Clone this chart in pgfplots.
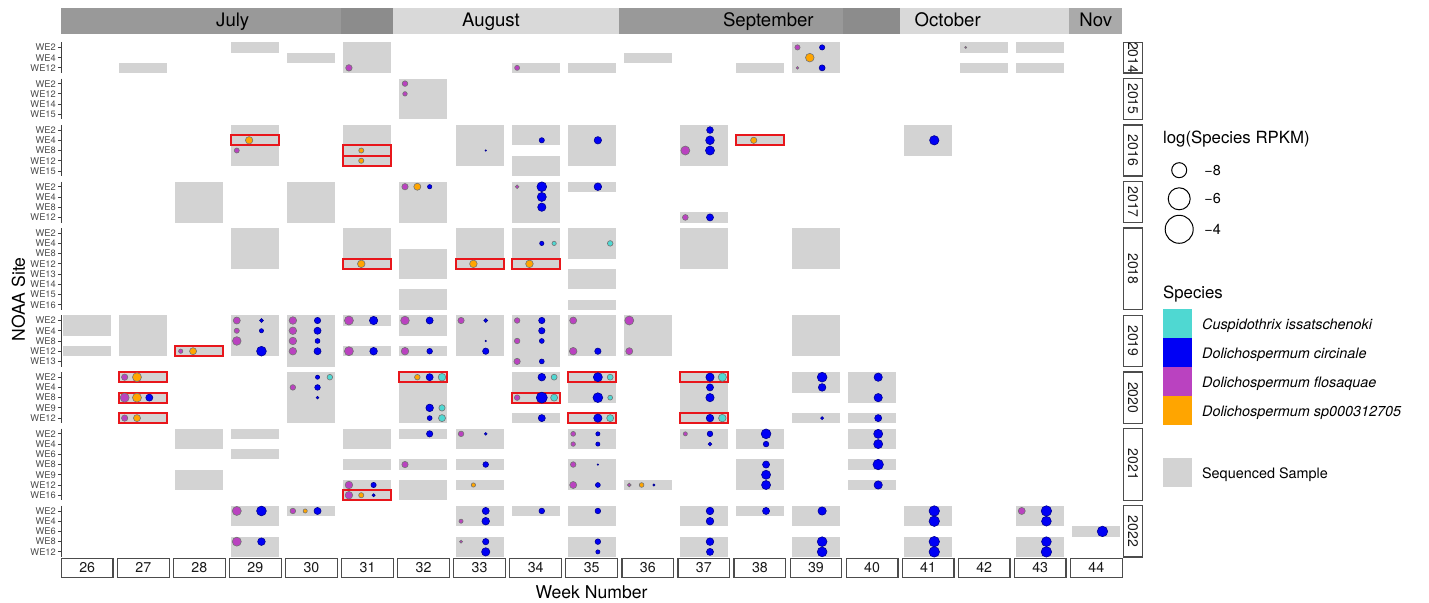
\documentclass[border=0pt]{standalone}
\usepackage{pgfplots}
\usepackage{pgfplotstable}
\pgfplotsset{compat=1.18}
\usepackage{fontspec}
\setmainfont{TeX Gyre Heros}
\definecolor{tilegray}{HTML}{D3D3D3}
\definecolor{ccy}{HTML}{4FD8D2}
\definecolor{cbl}{HTML}{0000F5}
\definecolor{cpu}{HTML}{BA42C0}
\definecolor{cor}{HTML}{FFA500}
\definecolor{cred}{HTML}{E8161B}
\definecolor{mdark}{HTML}{999999}
\definecolor{mdarker}{HTML}{8C8C8C}
\definecolor{mlight}{HTML}{D9D9D9}
\definecolor{mmid}{HTML}{AAAAAA}
\pgfdeclareplotmark{redbox}{\pgfpathrectangle{\pgfpoint{-12pt}{-2.557pt}}{\pgfpoint{24pt}{5.114pt}}\pgfusepathqstroke}

% sequenced samples: week, first row, last row, year facet
\pgfplotstableread{
w ra rb k
27 2 2 0
29 0 0 0
30 1 1 0
31 0 2 0
34 2 2 0
35 2 2 0
36 1 1 0
38 2 2 0
39 0 2 0
42 0 0 0
42 2 2 0
43 0 0 0
43 2 2 0
32 3 6 1
29 7 10 2
31 7 10 2
33 7 10 2
34 7 8 2
34 10 11 2
35 7 10 2
37 7 10 2
38 8 8 2
41 7 9 2
28 12 15 3
30 12 15 3
32 12 15 3
34 12 15 3
35 12 12 3
37 15 15 3
29 16 19 4
31 16 19 4
32 18 20 4
32 22 23 4
33 16 19 4
34 16 19 4
35 16 18 4
35 20 21 4
35 23 23 4
37 16 19 4
39 16 19 4
26 24 25 5
26 27 27 5
27 24 27 5
28 27 27 5
29 24 27 5
30 24 28 5
31 24 24 5
31 27 27 5
32 24 25 5
32 27 27 5
33 24 27 5
34 24 28 5
35 24 27 5
36 24 27 5
39 24 27 5
27 29 29 6
27 31 31 6
27 33 33 6
30 29 33 6
32 29 33 6
34 29 31 6
34 33 33 6
35 29 31 6
35 33 33 6
37 29 33 6
39 29 30 6
39 33 33 6
40 29 31 6
40 33 33 6
28 34 35 7
28 38 39 7
29 34 34 7
29 36 36 7
31 34 35 7
31 37 37 7
31 39 40 7
32 34 34 7
32 37 37 7
32 39 40 7
33 34 35 7
33 37 37 7
33 39 39 7
35 34 35 7
35 37 39 7
36 39 39 7
37 34 35 7
38 34 35 7
38 37 39 7
40 34 35 7
40 37 37 7
40 39 39 7
29 41 42 8
29 44 45 8
30 41 41 8
33 41 42 8
33 44 45 8
34 41 41 8
35 41 42 8
35 44 45 8
37 41 42 8
37 44 45 8
38 41 41 8
39 41 42 8
39 44 45 8
41 41 42 8
41 44 45 8
43 41 42 8
43 44 45 8
44 43 43 8
}\tiles

\pgfplotstableread{
w r k
29 8 2
31 9 2
31 10 2
38 8 2
31 19 4
33 19 4
34 19 4
28 27 5
27 29 6
27 31 6
27 33 6
32 29 6
34 31 6
35 29 6
35 33 6
37 29 6
37 33 6
31 40 7
}\reds

% Dolichospermum flosaquae
\pgfplotstableread{
w r k v
31 2 0 -6.5
34 2 0 -7.3
39 0 0 -7.2
39 2 0 -8.6
42 0 0 -9.0
32 3 1 -7.0
32 4 1 -7.6
29 9 2 -7.3
37 9 2 -5.1
32 12 3 -6.6
34 12 3 -8.0
37 15 3 -6.9
28 27 5 -7.7
29 24 5 -6.2
29 25 5 -7.2
29 26 5 -5.3
30 24 5 -5.9
30 25 5 -5.9
30 26 5 -5.9
30 27 5 -5.9
31 24 5 -5.1
31 27 5 -5.1
32 24 5 -5.3
32 27 5 -5.9
33 24 5 -6.6
34 24 5 -7.0
34 26 5 -7.0
34 28 5 -6.6
35 24 5 -6.2
35 27 5 -5.9
36 24 5 -5.1
36 27 5 -6.2
27 29 6 -6.6
27 31 6 -5.1
27 33 6 -6.6
30 30 6 -7.0
34 31 6 -7.0
31 39 7 -5.9
31 40 7 -5.9
32 37 7 -6.6
33 34 7 -7.0
35 34 7 -7.4
35 35 7 -7.6
35 37 7 -7.0
35 39 7 -6.2
36 39 7 -8.0
37 34 7 -7.8
29 41 8 -5.1
29 44 8 -5.1
30 41 8 -7.0
33 42 8 -7.8
33 44 8 -8.4
43 41 8 -6.2
}\tpu

% Dolichospermum sp000312705
\pgfplotstableread{
w r k v
39 1 0 -5.3
29 8 2 -6.0
31 9 2 -7.3
31 10 2 -7.2
38 8 2 -6.6
32 12 3 -6.2
31 19 4 -5.9
33 19 4 -5.9
34 19 4 -5.9
28 27 5 -6.2
27 29 6 -5.1
27 31 6 -5.1
27 33 6 -6.2
32 29 6 -7.0
31 40 7 -7.2
33 39 7 -7.7
36 39 7 -7.5
30 41 8 -7.8
}\tor

% Dolichospermum circinale
\pgfplotstableread{
w r k v
39 0 0 -7.2
39 2 0 -6.8
33 9 2 -9.3
34 8 2 -7.2
35 8 2 -6.0
37 7 2 -6.4
37 8 2 -5.3
37 9 2 -5.1
41 8 2 -4.9
32 12 3 -7.7
34 12 3 -4.7
34 13 3 -5.1
34 14 3 -5.5
35 12 3 -5.9
37 15 3 -6.2
34 17 4 -7.7
29 24 5 -8.0
29 25 5 -7.8
29 27 5 -4.7
30 24 5 -6.6
30 25 5 -6.2
30 26 5 -7.4
30 27 5 -6.2
31 24 5 -5.5
31 27 5 -5.9
32 24 5 -6.2
32 27 5 -7.0
33 24 5 -8.0
33 26 5 -9.3
33 27 5 -6.6
34 24 5 -6.6
34 25 5 -6.6
34 26 5 -7.4
34 28 5 -7.4
35 27 5 -6.6
27 31 6 -6.2
30 29 6 -7.8
30 30 6 -7.0
30 31 6 -8.6
32 29 6 -6.2
32 32 6 -5.9
32 33 6 -7.4
34 29 6 -5.9
34 31 6 -4.0
34 33 6 -6.2
35 29 6 -5.1
35 31 6 -4.7
35 33 6 -5.5
37 29 6 -5.5
37 30 6 -6.2
37 31 6 -5.5
37 33 6 -5.9
39 29 6 -4.7
39 30 6 -5.9
39 33 6 -8.4
40 29 6 -5.5
40 31 6 -5.5
40 33 6 -6.2
31 39 7 -7.2
31 40 7 -8.4
32 34 7 -6.6
33 34 7 -8.6
33 37 7 -7.0
35 34 7 -7.8
35 35 7 -7.8
35 37 7 -9.3
35 39 7 -7.4
36 39 7 -8.9
37 34 7 -7.0
37 35 7 -8.0
38 34 7 -4.7
38 35 7 -7.0
38 37 7 -6.2
38 38 7 -5.1
38 39 7 -5.1
40 34 7 -5.1
40 35 7 -5.1
40 37 7 -4.3
40 39 7 -5.5
29 41 8 -4.7
29 44 8 -5.9
30 41 8 -6.2
33 41 8 -6.2
33 42 8 -5.9
33 44 8 -6.6
33 45 8 -5.5
34 41 8 -7.0
35 41 8 -7.0
35 44 8 -7.0
35 45 8 -7.8
37 41 8 -5.9
37 42 8 -5.9
37 44 8 -5.9
37 45 8 -6.2
38 41 8 -6.2
39 41 8 -5.5
39 44 8 -4.7
39 45 8 -4.7
41 41 8 -4.3
41 42 8 -4.3
41 44 8 -4.3
41 45 8 -4.3
43 41 8 -4.3
43 42 8 -4.7
43 44 8 -4.7
43 45 8 -4.3
44 43 8 -4.3
}\tbl

% Cuspidothrix issatschenoki
\pgfplotstableread{
w r k v
34 17 4 -7.7
35 17 4 -7.0
30 29 6 -7.0
32 29 6 -5.9
32 32 6 -6.6
32 33 6 -6.2
34 29 6 -6.8
34 31 6 -6.2
35 29 6 -6.8
35 31 6 -7.4
35 33 6 -6.2
37 29 6 -5.5
37 33 6 -5.9
}\tcy

\pgfplotsset{
  bubble/.style={scatter, only marks, mark=*,
    scatter/use mapped color={#1},
    visualization depends on={max(0.35,2.75+0.45*(\thisrow{v}+4)) \as \msz},
    scatter/@pre marker code/.append style={/tikz/mark size=\msz},
    mark options={line width=0.3pt}},
}

\begin{document}
\begin{tikzpicture}
\begin{axis}[
  at={(30.65pt,-21.15pt)}, anchor=north west,
  scale only axis, width=530.25pt, height=257.35pt,
  xmin=25.54, xmax=44.455, ymin=0, ymax=50.32, y dir=reverse,
  clip=false,
  axis line style={draw=none},
  xtick=\empty,
  ytick={0.5,1.5,2.5,4.04,5.04,6.04,7.04,8.58,9.58,10.58,11.58,12.58,14.12,15.12,16.12,17.12,18.66,19.66,20.66,21.66,22.66,23.66,24.66,25.66,27.2,28.2,29.2,30.2,31.2,32.74,33.74,34.74,35.74,36.74,38.28,39.28,40.28,41.28,42.28,43.28,44.28,45.82,46.82,47.82,48.82,49.82},
  yticklabels={WE2,WE4,WE12,WE2,WE12,WE14,WE15,WE2,WE4,WE8,WE12,WE15,WE2,WE4,WE8,WE12,WE2,WE4,WE8,WE12,WE13,WE14,WE15,WE16,WE2,WE4,WE8,WE12,WE13,WE2,WE4,WE8,WE9,WE12,WE2,WE4,WE6,WE8,WE9,WE12,WE16,WE2,WE4,WE6,WE8,WE12},
  ytick pos=left, tick align=outside, major tick length=1.75pt,
  tick style={black!75, line width=0.4pt},
  yticklabel style={font=\fontsize{4.65}{5}\selectfont, text=black!70, inner sep=0.8pt},
]
\addplot[draw=none, mark=none, forget plot,
  error bars/.cd, y dir=both, y explicit, error mark=none,
  error bar style={line width=24pt, draw=tilegray, solid}]
  table[x=w, y expr={(\thisrow{ra}+\thisrow{rb})/2+0.5+0.54*\thisrow{k}},
        y error expr={(\thisrow{rb}-\thisrow{ra}+1)/2}] {\tiles};
\addplot[only marks, mark=redbox, mark options={draw=cred, line width=1pt}]
  table[x=w, y expr={\thisrow{r}+0.5+0.54*\thisrow{k}}] {\reds};
\addplot[bubble={draw=black!55, fill=cpu}]
  table[x expr={\thisrow{w}-0.33}, y expr={\thisrow{r}+0.5+0.54*\thisrow{k}}] {\tpu};
\addplot[bubble={draw=black!55, fill=cor}]
  table[x expr={\thisrow{w}-0.11}, y expr={\thisrow{r}+0.5+0.54*\thisrow{k}}] {\tor};
\addplot[bubble={draw=cbl!60!black, fill=cbl}]
  table[x expr={\thisrow{w}+0.11}, y expr={\thisrow{r}+0.5+0.54*\thisrow{k}}] {\tbl};
\addplot[bubble={draw=black!55, fill=ccy}]
  table[x expr={\thisrow{w}+0.33}, y expr={\thisrow{r}+0.5+0.54*\thisrow{k}}] {\tcy};
\end{axis}

\begin{scope}[x=0.5pt,y=-0.5pt]
% month band
\fill[mdark] (61.3,8) rectangle (340.7,34.3);
\fill[mdarker] (340.7,8) rectangle (393.3,34.3);
\fill[mlight] (393.3,8) rectangle (619,34.3);
\fill[mdark] (619,8) rectangle (843,34.3);
\fill[mdarker] (843,8) rectangle (900,34.3);
\fill[mlight] (900,8) rectangle (1069,34.3);
\fill[mmid] (1069,8) rectangle (1121.8,34.3);
\foreach \x/\m in {232.7/July, 491/August, 768.3/September, 947.7/October, 1095.8/Nov}
  \node[anchor=base, inner sep=0pt, font=\fontsize{9.3}{11}\selectfont] at (\x,26.7) {\m};
% facet y axis lines and year strips
\foreach \a/\b/\yr in {0/3/2014, 3.54/7.54/2015, 8.08/13.08/2016, 13.62/17.62/2017, 18.16/26.16/2018, 26.7/31.7/2019, 32.24/37.24/2020, 37.78/44.78/2021, 45.32/50.32/2022} {
  \draw[black!75, line width=0.45pt] (61.3,{42.3+\a*10.228}) -- (61.3,{42.3+\b*10.228});
  \draw[black!70, line width=0.6pt, fill=white] (1123.5,{42.3+\a*10.228}) rectangle (1142.5,{42.3+\b*10.228});
  \node[rotate=-90, inner sep=0pt, font=\fontsize{7}{8}\selectfont, text=black!90] at (1133,{42.3+(\a+\b)/2*10.228}) {\yr};
}
% week strips
\foreach \w in {26,...,44} {
  \pgfmathsetmacro\cx{87.2+(\w-26)*56.06}
  \draw[black!70, line width=0.6pt, fill=white] ({\cx-25.85},558.3) rectangle ({\cx+25.85},577.3);
  \node[anchor=base, inner sep=0pt, font=\fontsize{7.1}{8}\selectfont, text=black!90] at (\cx,572.7) {\w};
}
% axis titles
\node[anchor=base, inner sep=0pt, font=\fontsize{8.8}{10}\selectfont] at (591.5,598.3) {Week Number};
\node[rotate=90, anchor=base, inner sep=0pt, font=\fontsize{8.8}{10}\selectfont] at (25,299.6) {NOAA Site};
% legend: size
\node[anchor=base west, inner sep=0pt, font=\fontsize{8.4}{10}\selectfont] at (1162.7,143.3) {log(Species RPKM)};
\draw[black, line width=0.5pt] (1179.2,170.2) circle (3.75pt);
\draw[black, line width=0.5pt] (1179.2,198.8) circle (5.5pt);
\draw[black, line width=0.5pt] (1179.2,229.3) circle (7pt);
\node[anchor=west, inner sep=0pt, font=\fontsize{7.2}{8}\selectfont] at (1204,170.2) {−8};
\node[anchor=west, inner sep=0pt, font=\fontsize{7.2}{8}\selectfont] at (1204,198.8) {−6};
\node[anchor=west, inner sep=0pt, font=\fontsize{7.2}{8}\selectfont] at (1204,229.3) {−4};
% legend: species
\node[anchor=base west, inner sep=0pt, font=\fontsize{8.4}{10}\selectfont] at (1162.7,298.3) {Species};
\fill[ccy] (1162.7,309.3) rectangle (1191.7,338.3);
\fill[cbl] (1162.7,338.3) rectangle (1191.7,367.3);
\fill[cpu] (1162.7,367.3) rectangle (1191.7,396.3);
\fill[cor] (1162.7,396.3) rectangle (1191.7,425.3);
\node[anchor=base west, inner sep=0pt, font=\fontsize{7.2}{8}\selectfont\itshape] at (1201.7,329.3) {Cuspidothrix issatschenoki};
\node[anchor=base west, inner sep=0pt, font=\fontsize{7.2}{8}\selectfont\itshape] at (1201.7,358.3) {Dolichospermum circinale};
\node[anchor=base west, inner sep=0pt, font=\fontsize{7.2}{8}\selectfont\itshape] at (1201.7,387.3) {Dolichospermum flosaquae};
\node[anchor=base west, inner sep=0pt, font=\fontsize{7.2}{8}\selectfont\itshape] at (1201.7,416.3) {Dolichospermum sp000312705};
\fill[tilegray] (1162.7,458.3) rectangle (1191.7,486.7);
\node[anchor=base west, inner sep=0pt, font=\fontsize{7.2}{8}\selectfont] at (1201.7,478.3) {Sequenced Sample};
\end{scope}
\pgfresetboundingbox
\path[use as bounding box] (0pt,0pt) rectangle (714.5pt,-301.5pt);
\end{tikzpicture}
\end{document}
